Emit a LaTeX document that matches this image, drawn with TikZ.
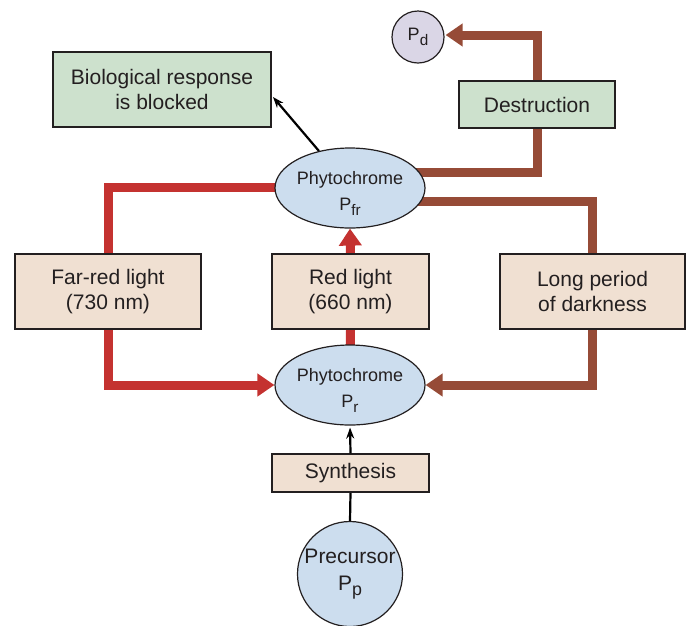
\documentclass[tikz,border=0pt]{standalone}
\usepackage{fontspec}
\setmainfont{Liberation Sans}
\usetikzlibrary{arrows.meta,backgrounds,shapes.geometric,calc}
\definecolor{redln}{RGB}{196,50,48}
\definecolor{brownln}{RGB}{150,75,55}
\definecolor{beige}{RGB}{240,224,210}
\definecolor{greenbox}{RGB}{205,225,205}
\definecolor{bluefill}{RGB}{204,221,238}
\definecolor{lavender}{RGB}{218,214,230}
\definecolor{txt}{RGB}{35,31,32}
\newcommand\subtx[1]{\raisebox{-0.45ex}{\scalebox{0.85}{#1}}}
\tikzset{
  lightbox/.style={draw=txt,line width=1.2pt,fill=beige,align=center,inner sep=0pt,text=txt,font=\fontsize{21}{25}\selectfont},
  greenrect/.style={draw=txt,line width=1.2pt,fill=greenbox,align=center,inner sep=0pt,text=txt,font=\fontsize{21}{25}\selectfont},
  phyto/.style={draw=txt,line width=1.2pt,fill=bluefill,ellipse,inner sep=0pt,minimum width=145pt,minimum height=80pt,align=center,text=txt,font=\fontsize{18}{26}\selectfont},
  thickred/.style={draw=redln,line width=9pt,line join=miter},
  thickbrown/.style={draw=brownln,line width=9pt,line join=miter},
  bigtip/.style={-{Triangle[length=17pt,width=22pt]}},
  thinarrow/.style={draw=black,line width=2.2pt,-{Stealth[length=11pt,width=8pt]}}
}
\begin{document}
\begin{tikzpicture}[x=1pt,y=-1pt]
\useasboundingbox (0,0) rectangle (687,625);
% nodes
\node[greenrect,minimum width=218pt,minimum height=75pt] (bio) at (162,89.5) {Biological response\\is blocked};
\node[greenrect,minimum width=156pt,minimum height=47pt] (destr) at (537,104.5) {Destruction};
\node[draw=txt,line width=1.2pt,fill=lavender,circle,minimum size=52pt,inner sep=0pt,text=txt,font=\fontsize{18}{20}\selectfont] (Pd) at (418,37) {P\subtx{d}};
\node[phyto] (Pfr) at (350,188) {\rule{0pt}{24pt}Phytochrome\\P\subtx{fr}};
\node[lightbox,minimum width=186pt,minimum height=75pt] (far) at (108,291.5) {Far-red light\\(730 nm)};
\node[lightbox,minimum width=157pt,minimum height=75pt] (redl) at (350.5,291.5) {Red light\\(660 nm)};
\node[lightbox,minimum width=185pt,minimum height=75pt] (dark) at (592.5,291.5) {Long period\\of darkness};
\node[phyto] (Pr) at (350,385) {\rule{0pt}{24pt}Phytochrome\\P\subtx{r}};
\node[lightbox,minimum width=157pt,minimum height=38pt] (synth) at (350.5,473) {Synthesis};
\node[draw=txt,line width=1.2pt,fill=bluefill,circle,minimum size=105pt,inner sep=0pt,align=center,text=txt,font=\fontsize{21}{27}\selectfont] (pre) at (350,574) {Precursor\\P\subtx{p}};
\coordinate (bioTip) at (273,97);
% connectors
\begin{scope}[on background layer]
\draw[thickred] ($(Pfr.center)+(0,-1)$) -| (far.north);
\draw[thickred,bigtip] (far.south) |- (Pr.west);
\draw[thickred] (Pr.center) -- (redl.south);
\draw[thickred,bigtip] (redl.north) -- (Pfr.south);
\draw[thickbrown] ($(Pfr.center)+(0,13)$) -| (dark.north);
\draw[thickbrown,bigtip] (dark.south) |- (Pr.east);
\draw[thickbrown] ($(Pfr.center)+(0,-16)$) -| (destr.south);
\draw[thickbrown,bigtip] (destr.north) |- ($(Pd.east)+(1,-2)$);
\draw[black,line width=2.2pt] (pre.north) -- (synth.south);
\end{scope}
\draw[thinarrow] (Pfr.130) -- (bioTip);
\draw[thinarrow,shorten >=2pt] (synth.north) -- (Pr.south);
\end{tikzpicture}
\end{document}
